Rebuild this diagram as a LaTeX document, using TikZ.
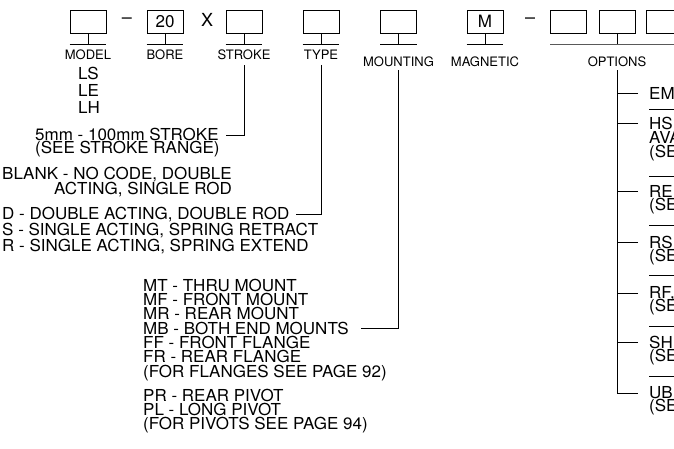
\documentclass[tikz,border=0pt]{standalone}
\usepackage{fontspec}
\setmainfont{TeX Gyre Heros}
\begin{document}
\begin{tikzpicture}[x=1pt,y=-1pt,
  box/.style={draw,line width=0.9pt,minimum width=36pt,minimum height=23pt,inner sep=0pt,font=\fontsize{17}{17}\selectfont},
  sym/.style={inner sep=0pt,font=\fontsize{18}{18}\selectfont},
  lbl/.style={font=\fontsize{13}{13}\selectfont,inner sep=0pt,anchor=base},
  txt/.style={font=\fontsize{16.5}{16.5}\selectfont,inner sep=0pt,anchor=base west,xscale=1.03},
  ln/.style={line width=0.9pt}]
\useasboundingbox (0,0) rectangle (674,448);
\begin{scope}
\clip (0,0) rectangle (674,448);
% boxes
\node[box] (bm) at (88,21.5) {};
\node[sym] (dash1) at (127,21) {–};
\node[box] (bb) at (165,21.5) {20};
\node[sym] (xx) at (207,20) {X};
\node[box] (bs) at (244,21.5) {};
\node[box] (bt) at (321,21.5) {};
\node[box] (bmo) at (398.5,21.5) {};
\node[box] (bmg) at (485,21.5) {M};
\node[sym] (dash2) at (530,21) {–};
\node[box] (bo1) at (568.5,21.5) {};
\node[box] (bo2) at (617.5,21.5) {};
\node[box] (bo3) at (664,21.5) {};
% lines under boxes
\coordinate (ly) at (0,44);
\foreach \b in {bm,bb,bs,bt,bmo,bmg}{
  \draw[ln] (\b.south) -- (\b.south |- ly);
  \draw[ln] (\b.south west |- ly) -- (\b.south east |- ly);
}
\draw[ln] (bo2.south) -- (bo2.south |- ly);
\draw[ln] (bo1.south west |- ly) -- (bo3.south east |- ly) -- ++(20,0);
% labels
\node[lbl] (lm) at (88,59.7) {MODEL};
\node[lbl] (lb) at (165,59.7) {BORE};
\node[lbl] (ls) at (244,59.7) {STROKE};
\node[lbl] (lt) at (321,59.7) {TYPE};
\node[lbl] (lmo) at (398.5,66.7) {MOUNTING};
\node[lbl] (lmg) at (485,66.7) {MAGNETIC};
\node[lbl] (lo) at (617,66.7) {OPTIONS};
% model
\node[txt] (tls) at (78,79) {LS};
\node[txt] (tle) at (78,96) {LE};
\node[txt] (tlh) at (78,113) {LH};
% stroke
\node[txt] (t5) at (35,140) {5mm - 100mm STROKE};
\node[txt] (t5b) at (35,153) {(SEE STROKE RANGE)};
% type
\node[txt] (tbl) at (2,179) {BLANK - NO CODE, DOUBLE};
\node[txt] (tbl2) at (54,194) {ACTING, SINGLE ROD};
\node[txt] (td) at (2,219) {D - DOUBLE ACTING, DOUBLE ROD};
\node[txt] (tsr) at (2,235) {S - SINGLE ACTING, SPRING RETRACT};
\node[txt] (tre) at (2,251) {R - SINGLE ACTING, SPRING EXTEND};
% mounting
\node[txt] (mt) at (143,291) {MT - THRU MOUNT};
\node[txt] (mf) at (143,305.3) {MF - FRONT MOUNT};
\node[txt] (mr) at (143,319.6) {MR - REAR MOUNT};
\node[txt] (mb) at (143,334) {MB - BOTH END MOUNTS};
\node[txt] (ff) at (143,348.3) {FF - FRONT FLANGE};
\node[txt] (fr) at (143,362.6) {FR - REAR FLANGE};
\node[txt] (ffl) at (143,377) {(FOR FLANGES SEE PAGE 92)};
\node[txt] (pr) at (143,401) {PR - REAR PIVOT};
\node[txt] (pl) at (143,415.3) {PL - LONG PIVOT};
\node[txt] (fpv) at (143,429.6) {(FOR PIVOTS SEE PAGE 94)};
% options
\node[txt] (oem) at (649,99) {EM};
\node[txt] (ohs) at (649,129) {HS};
\node[txt] (ohs2) at (649,143) {AVA};
\node[txt] (ohs3) at (649,157) {(SE};
\node[txt] (ore) at (649,197) {RE};
\node[txt] (ore2) at (649,210.5) {(SE};
\node[txt] (ors) at (649,248) {RS};
\node[txt] (ors2) at (649,261.5) {(SE};
\node[txt] (orf) at (649,298) {RF,};
\node[txt] (orf2) at (649,311.5) {(SE};
\node[txt] (osh) at (649,348) {SH};
\node[txt] (osh2) at (649,361.5) {(SE};
\node[txt] (oub) at (649,398) {UB,};
\node[txt] (oub2) at (649,411.5) {(SE};
\foreach \y in {109,176,225,275,326,376}{
  \draw[ln] (649,\y) -- (690,\y);
}
% connectors
\draw[ln] ([yshift=-5pt]ls.south) |- ([xshift=7pt,yshift=-1pt]t5.east);
\draw[ln] ([yshift=-5pt]lt.south) |- ([xshift=6pt]td.east);
\draw[ln] ([yshift=-3pt]lmo.south) |- ([xshift=12pt]mb.east);
\draw[ln] ([yshift=-3pt]lo.south) |- ([xshift=-11pt]oub.west);
\foreach \n in {oem,ohs,ore,ors,orf,osh}{
  \draw[ln] ([xshift=-11pt]\n.west) -- (\n.west -| lo.south);
}
\end{scope}
\end{tikzpicture}
\end{document}
